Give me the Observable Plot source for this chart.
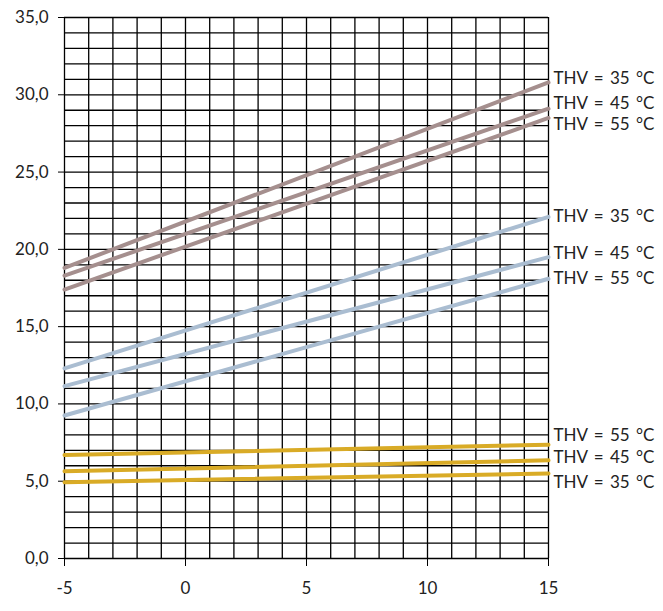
<!DOCTYPE html>
<html>
<head>
<meta charset="utf-8">
<script src="https://cdn.jsdelivr.net/npm/d3@7"></script>
<script src="https://cdn.jsdelivr.net/npm/@observablehq/plot@0.6"></script>
<style>
  html, body { margin: 0; padding: 0; background: #fff; }
  #chart svg { display: block; }
  #chart svg text.lbl { word-spacing: 2px; }
</style>
</head>
<body>
<div id="chart"></div>
<script>
// X values (outdoor temperature) at which each line was read
const xValues = [-5, 15];

// Series: group (colour family) and flow temperature label
const seriesNames = ["brown35", "brown45", "brown55", "blue35", "blue45", "blue55", "yellow55", "yellow45", "yellow35"];
const seriesGroup = ["brown", "brown", "brown", "blue", "blue", "blue", "yellow", "yellow", "yellow"];
const seriesLabel = ["THV = 35 °C", "THV = 45 °C", "THV = 55 °C", "THV = 35 °C", "THV = 45 °C", "THV = 55 °C", "THV = 55 °C", "THV = 45 °C", "THV = 35 °C"];
// y values at x = -5 and x = 15
const seriesValues = [
  [18.8, 30.8],
  [18.3, 29.1],
  [17.4, 28.5],
  [12.3, 22.1],
  [11.15, 19.5],
  [9.25, 18.1],
  [6.7, 7.36],
  [5.65, 6.35],
  [4.93, 5.5]
];

const xTicks = [-5, 0, 5, 10, 15];
const yTicks = [0, 5, 10, 15, 20, 25, 30, 35];

// styling
const groupColor = {brown: "#a58f8e", blue: "#aabdd1", yellow: "#d9ab26"};
const labelDy = [-4, -5, 7, 0, -4, 0, -9, -3, 9];

const rows = [];
seriesNames.forEach((s, i) => {
  xValues.forEach((x, j) => rows.push({series: s, group: seriesGroup[i], x, y: seriesValues[i][j]}));
});
const labels = seriesNames.map((s, i) => ({
  series: s, group: seriesGroup[i], text: seriesLabel[i],
  x: xValues[xValues.length - 1], y: seriesValues[i][xValues.length - 1], dy: labelDy[i]
}));

const chart = Plot.plot({
  width: 663,
  height: 611,
  marginLeft: 64,
  marginRight: 115,
  marginTop: 17,
  marginBottom: 53,
  style: {fontFamily: "Lato, 'Noto Sans', sans-serif", color: "#222", background: "#fff"},
  x: {domain: [-5, 15]},
  y: {domain: [0, 35]},
  marks: [
    Plot.gridX(d3.range(-5, 16), {stroke: "#000", strokeOpacity: 1, strokeWidth: 1.3}),
    Plot.gridY(d3.range(0, 36), {stroke: "#000", strokeOpacity: 1, strokeWidth: 1.3}),
    Plot.axisX(xTicks, {tickSize: 8, tickPadding: 15, fontSize: 17, tickFormat: d => String(d), label: null, stroke: "#000"}),
    Plot.axisY(yTicks, {tickSize: 6, tickPadding: 10, fontSize: 17, tickFormat: d => d.toFixed(1).replace(".", ","), label: null, stroke: "#000"}),
    Plot.line(rows, {x: "x", y: "y", z: "series", stroke: d => groupColor[d.group], strokeWidth: 4}),
    ...labels.map(l => Plot.text([l], {x: "x", y: "y", text: "text", dx: 5, dy: l.dy, textAnchor: "start", fontSize: 17, fill: "#222", className: "lbl"}))
  ]
});
chart.querySelectorAll("g.lbl text").forEach(t => t.setAttribute("word-spacing", "2"));
document.getElementById("chart").appendChild(chart);
</script>
</body>
</html>
